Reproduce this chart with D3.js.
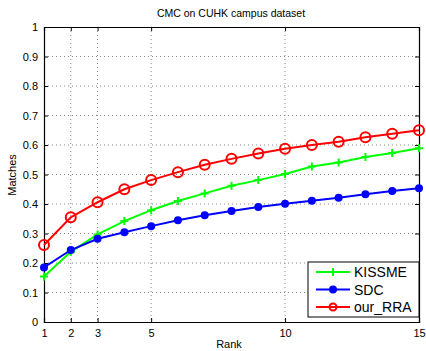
<!DOCTYPE html>
<html><head><meta charset="utf-8">
<script src="https://cdn.jsdelivr.net/npm/d3@7/dist/d3.min.js"></script>
<style>body{margin:0;background:#fff}svg{display:block;font-family:"Liberation Sans",Arial,sans-serif}</style>
</head><body>
<svg id="c" width="426" height="351"></svg>
<script>
const ranks = [1,2,3,4,5,6,7,8,9,10,11,12,13,14,15];
const kissme = [0.154,0.238,0.297,0.342,0.379,0.410,0.436,0.462,0.481,0.502,0.527,0.541,0.559,0.573,0.589];
const sdc    = [0.185,0.244,0.282,0.304,0.325,0.345,0.362,0.376,0.390,0.401,0.411,0.421,0.433,0.444,0.453];
const rra    = [0.261,0.355,0.406,0.450,0.481,0.508,0.533,0.553,0.571,0.587,0.600,0.611,0.626,0.638,0.650];
const xTicks = [1,2,3,5,10,15];
const yTicks = [0,0.1,0.2,0.3,0.4,0.5,0.6,0.7,0.8,0.9,1];
const seriesNames = ["KISSME","SDC","our_RRA"];
const colors = ["#00ff00","#0000ff","#ff0000"];

const svg = d3.select("#c");
const L=44, R=419, T=27, B=322;
const x = d3.scaleLinear().domain([1,15]).range([L,R]);
const y = d3.scaleLinear().domain([0,1]).range([B,T]);

// grid
const g = svg.append("g");
g.selectAll("line.vx").data(xTicks.filter(d=>d>1&&d<15)).enter().append("line")
 .attr("x1",d=>x(d)).attr("x2",d=>x(d)).attr("y1",T).attr("y2",B)
 .attr("stroke","#888").attr("stroke-width",1).attr("stroke-dasharray","1,3");
g.selectAll("line.hy").data(yTicks.filter(d=>d>0&&d<1)).enter().append("line")
 .attr("x1",L).attr("x2",R).attr("y1",d=>y(d)).attr("y2",d=>y(d))
 .attr("stroke","#888").attr("stroke-width",1).attr("stroke-dasharray","1,3");

// axes
const xa = svg.append("g").attr("transform",`translate(0,${B})`)
 .call(d3.axisBottom(x).tickValues(xTicks).tickSize(-4).tickPadding(7).tickFormat(d3.format("d")));
const xt = svg.append("g").attr("transform",`translate(0,${T})`)
 .call(d3.axisTop(x).tickValues(xTicks).tickSize(-4).tickFormat(""));
const ya = svg.append("g").attr("transform",`translate(${L},0)`)
 .call(d3.axisLeft(y).tickValues(yTicks).tickSize(-4).tickPadding(6).tickFormat(d=>d===0||d===1?d3.format("d")(d):d3.format(".1f")(d)));
const yr = svg.append("g").attr("transform",`translate(${R},0)`)
 .call(d3.axisRight(y).tickValues(yTicks).tickSize(-4).tickFormat(""));
[xa,xt,ya,yr].forEach(a=>{a.select(".domain").attr("stroke","#000").attr("stroke-width",1.2);
 a.selectAll(".tick line").attr("stroke","#000");
 a.selectAll("text").attr("font-size",11).attr("fill","#000").attr("font-family","Liberation Sans, Arial, sans-serif");});

// series
const data = [kissme,sdc,rra];
const line = d3.line().x((d,i)=>x(ranks[i])).y(d=>y(d));
data.forEach((s,k)=>{
  svg.append("path").datum(s).attr("d",line).attr("fill","none").attr("stroke",colors[k]).attr("stroke-width",2);
  const m = svg.append("g");
  s.forEach((v,i)=>{
    const cx=x(ranks[i]), cy=y(v);
    if(k===0){
      m.append("path").attr("d",`M${cx-4},${cy}H${cx+4}M${cx},${cy-4}V${cy+4}`).attr("stroke",colors[k]).attr("stroke-width",2);
    } else if(k===1){
      m.append("circle").attr("cx",cx).attr("cy",cy).attr("r",4).attr("fill",colors[k]);
    } else {
      m.append("circle").attr("cx",cx).attr("cy",cy).attr("r",5).attr("fill","none").attr("stroke",colors[k]).attr("stroke-width",2);
    }
  });
});

// legend
const lx=308, ly=262, lw=111, lh=55;
svg.append("rect").attr("x",lx).attr("y",ly).attr("width",lw).attr("height",lh).attr("fill","#fff").attr("stroke","#000").attr("stroke-width",1);
seriesNames.forEach((n,k)=>{
  const yy = ly+10+k*17.5;
  svg.append("line").attr("x1",lx+8).attr("x2",lx+42).attr("y1",yy).attr("y2",yy).attr("stroke",colors[k]).attr("stroke-width",2);
  const cx=lx+25;
  if(k===0) svg.append("path").attr("d",`M${cx-4},${yy}H${cx+4}M${cx},${yy-4}V${yy+4}`).attr("stroke",colors[k]).attr("stroke-width",2);
  else if(k===1) svg.append("circle").attr("cx",cx).attr("cy",yy).attr("r",4).attr("fill",colors[k]);
  else svg.append("circle").attr("cx",cx).attr("cy",yy).attr("r",3.5).attr("fill","none").attr("stroke",colors[k]).attr("stroke-width",2);
  svg.append("text").attr("x",lx+46).attr("y",yy+5).attr("font-size",14).text(n);
});

// labels
svg.append("text").attr("x",231).attr("y",17).attr("text-anchor","middle").attr("font-size",10.5).text("CMC on CUHK campus dataset");
svg.append("text").attr("x",229).attr("y",348).attr("text-anchor","middle").attr("font-size",11).text("Rank");
svg.append("text").attr("transform","translate(16,175) rotate(-90)").attr("text-anchor","middle").attr("font-size",11).text("Matches");
</script>
</body></html>
